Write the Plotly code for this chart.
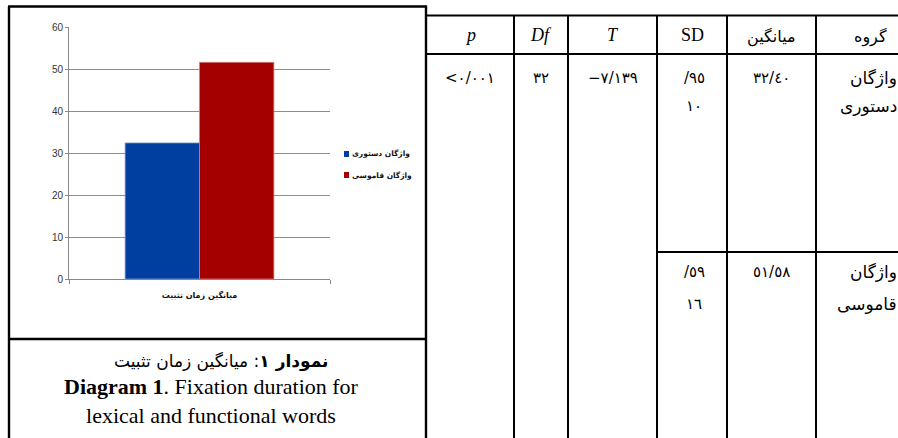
import plotly.graph_objects as go

# ---------------- data ----------------
category = ["میانگین زمان تثبیت"]
series_names = ["واژگان دستوری", "واژگان قاموسی"]
series_means = [32.40, 51.58]
y_ticks = [0, 10, 20, 30, 40, 50, 60]

table_headers = ["<i>p</i>", "<i>Df</i>", "<i>T</i>", "SD", "میانگین", "گروه"]
group_labels = [["واژگان", "دستوری"], ["واژگان", "قاموسی"]]
mean_labels = ["٣٢/٤٠", "٥١/٥٨"]
sd_labels = [["/٩٥", "١٠"], ["/٥٩", "١٦"]]
t_label = "−٧/١٣٩"
df_label = "٣٢"
p_label = "&lt;٠/٠٠١"

caption_fa = "<b>نمودار ۱</b>: میانگین زمان تثبیت"
caption_en = ["<b>Diagram 1</b>. Fixation duration for", "lexical and functional words"]

# ---------------- styling ----------------
W, H = 898, 438
colors = ["#003f9f", "#a50000"]
edge_colors = ["#7f9fcf", "#cf7f7f"]
FA = "DejaVu Sans, sans-serif"
SERIF = "Liberation Serif, Times New Roman, serif"
TICK_FONT = "Liberation Sans Narrow, Liberation Sans, Arial, sans-serif"


def px(x):
    return x / W


def py(y):
    return 1 - y / H


fig = go.Figure()
for name, val, c, ec in zip(series_names, series_means, colors, edge_colors):
    fig.add_trace(go.Bar(
        x=category, y=[val], name=name,
        marker=dict(color=c, line=dict(color=ec, width=0.8)),
        showlegend=False, hoverinfo="skip",
    ))

shapes = []
annotations = []

# legend (built from series names/colors)
leg_y = [154, 175]
for name, c, yy in zip(series_names, colors, leg_y):
    shapes.append(dict(type="rect", xref="paper", yref="paper",
                       x0=px(344), x1=px(349), y0=py(yy + 3), y1=py(yy - 3),
                       fillcolor=c, line=dict(width=0)))
    annotations.append(dict(x=px(350), y=py(yy), xref="paper", yref="paper",
                            xanchor="left", yanchor="middle", showarrow=False,
                            text=name,
                            font=dict(family=FA, size=7.5, color="#111", weight="bold")))

# chart box
BL = dict(color="black", width=2.4)
shapes.append(dict(type="line", xref="paper", yref="paper", x0=px(9), x1=px(9), y0=py(6.5), y1=py(445), line=BL))
shapes.append(dict(type="line", xref="paper", yref="paper", x0=px(8), x1=px(426.5), y0=py(6.5), y1=py(6.5), line=BL))
shapes.append(dict(type="line", xref="paper", yref="paper", x0=px(426), x1=px(426), y0=py(5.5), y1=py(445), line=BL))
shapes.append(dict(type="line", xref="paper", yref="paper", x0=px(9), x1=px(426), y0=py(339), y1=py(339), line=BL))

# table grid
col_edges = [426, 514, 568, 657, 727, 816, 898]
TL = dict(color="black", width=2)
shapes.append(dict(type="line", xref="paper", yref="paper", x0=px(426), x1=px(898), y0=py(15.5), y1=py(15.5), line=TL))
shapes.append(dict(type="line", xref="paper", yref="paper", x0=px(426), x1=px(898), y0=py(54), y1=py(54), line=TL))
shapes.append(dict(type="line", xref="paper", yref="paper", x0=px(657), x1=px(898), y0=py(252), y1=py(252), line=TL))
for xe in col_edges[1:-1]:
    shapes.append(dict(type="line", xref="paper", yref="paper", x0=px(xe), x1=px(xe), y0=py(15.5), y1=py(445), line=TL))


def txt(x, y, s, family, size, xanchor="center", weight="normal"):
    annotations.append(dict(x=px(x), y=py(y), xref="paper", yref="paper",
                            xanchor=xanchor, yanchor="middle", showarrow=False,
                            text=s, font=dict(family=family, size=size, color="black", weight=weight)))


# headers
centers = [(col_edges[i] + col_edges[i + 1]) / 2 for i in range(6)]
for i, h in enumerate(table_headers):
    if i < 4:
        txt(centers[i], 35, h, SERIF, 18)
    elif i == 4:
        txt(centers[i], 37, h, FA, 16)
    else:
        txt(870, 37, h, FA, 16)

row_y = [[78, 106], [272, 304]]
# p, Df, T (merged cells)
txt(centers[0], row_y[0][0], p_label, FA, 15)
txt(centers[1], row_y[0][0], df_label, FA, 15)
txt(centers[2], row_y[0][0], t_label, FA, 15)
for r in range(2):
    txt(694, row_y[r][0], sd_labels[r][0], FA, 15)
    txt(694, row_y[r][1], sd_labels[r][1], FA, 15)
    txt(centers[4], row_y[r][0], mean_labels[r], FA, 15)
    txt(899, row_y[r][0], group_labels[r][0], FA, 17, xanchor="right")
    txt(899, row_y[r][1], group_labels[r][1], FA, 17, xanchor="right")

# caption
txt(221, 361, caption_fa, FA, 17)
txt(211, 401, "<br>".join(caption_en), SERIF, 22)

fig.update_layout(
    width=W, height=H,
    margin=dict(l=0, r=0, t=0, b=0, pad=0, autoexpand=False),
    paper_bgcolor="white", plot_bgcolor="white",
    barmode="group", bargap=0.43, bargroupgap=0,
    showlegend=False,
    xaxis=dict(domain=[px(69), px(330)], type="category",
               showline=True, linecolor="#888", linewidth=1,
               ticks="outside", tickson="boundaries", ticklen=4, tickcolor="#888",
               ticklabelstandoff=8,
               tickfont=dict(family=FA, size=8, color="#111", weight="bold"),
               showgrid=False, fixedrange=True, automargin=False),
    yaxis=dict(domain=[py(279), py(27)], range=[0, 60], tickvals=y_ticks,
               showline=True, linecolor="#888", linewidth=1,
               ticks="outside", ticklen=3, tickcolor="#888",
               gridcolor="#8c8c8c", gridwidth=1, zeroline=False,
               tickfont=dict(family=TICK_FONT, size=10, color="#333"),
               fixedrange=True, automargin=False),
    shapes=shapes,
    annotations=annotations,
)

post = ("var d=document.getElementById('{plot_id}');"
        "document.documentElement.style.margin='0';"
        "document.body.style.margin='0';document.body.style.overflow='hidden';"
        "d.style.position='fixed';d.style.left='0px';d.style.top='0px';")

fig.write_html("out.html", post_script=post, config={"displayModeBar": False})
